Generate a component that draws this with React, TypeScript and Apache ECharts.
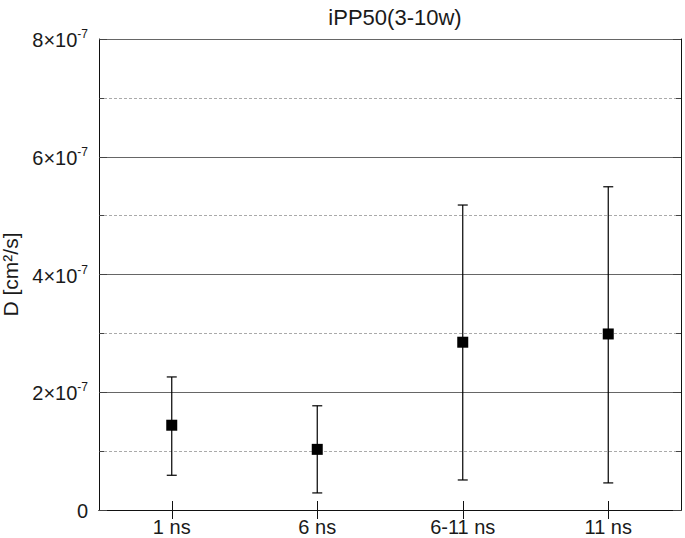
import React, { useEffect, useRef } from "react";
import * as echarts from "echarts";

const categories = ["1 ns", "6 ns", "6-11 ns", "11 ns"];
const means = [1.44e-7, 1.03e-7, 2.85e-7, 2.99e-7];
const lows = [0.59e-7, 0.29e-7, 0.51e-7, 0.46e-7];
const highs = [2.26e-7, 1.77e-7, 5.18e-7, 5.49e-7];
const yTicks = [0, 2e-7, 4e-7, 6e-7, 8e-7];

const FONT = "Arial, 'Liberation Sans', sans-serif";

export default function App() {
  const ref = useRef<HTMLDivElement>(null);
  useEffect(() => {
    if (!ref.current) return;
    const chart = echarts.init(ref.current, undefined, { renderer: "svg" });
    const fmt = (v: number) => {
      if (Math.abs(v) < 1e-12) return "{b|0}";
      const idx = yTicks.findIndex((t) => Math.abs(t - v) < 1e-12);
      const m = Math.round(v / 1e-7);
      return idx >= 0 ? `{b|${m}×10}{s|-7}` : "";
    };
    const axisLine = { show: true, lineStyle: { color: "#111", width: 1 } };
    chart.setOption({
      animation: false,
      backgroundColor: "#fff",
      title: {
        text: "iPP50(3-10w)",
        left: 390,
        textAlign: "center",
        top: 1,
        textStyle: { fontFamily: FONT, fontSize: 22, fontWeight: "normal", color: "#1a1a1a" },
      },
      grid: { left: 99, right: 4, top: 39, bottom: 28, containLabel: false, outerBoundsMode: "none" },
      xAxis: [
        {
          type: "category",
          data: categories,
          position: "bottom",
          axisLine,
          axisTick: { show: true, inside: true, alignWithLabel: true, length: 9, lineStyle: { color: "#111" } },
          axisLabel: { fontFamily: FONT, fontSize: 20, color: "#1a1a1a", margin: 7 },
          splitLine: { show: false },
        },
        {
          type: "category",
          data: categories,
          position: "top",
          axisLine,
          axisTick: { show: true, inside: true, alignWithLabel: true, length: 9, lineStyle: { color: "#111" } },
          axisLabel: { show: false },
          splitLine: { show: false },
        },
      ],
      yAxis: [
        {
          type: "value",
          min: 0,
          max: 8e-7,
          interval: 2e-7,
          position: "left",
          name: "D [cm²/s]",
          nameLocation: "middle",
          nameGap: 75,
          nameRotate: 90,
          nameTextStyle: { fontFamily: FONT, fontSize: 21, lineHeight: 21, color: "#1a1a1a" },
          axisLine,
          axisTick: { show: true, inside: true, length: 8, lineStyle: { color: "#444" } },
          minorTick: { show: true, splitNumber: 2, length: 5, lineStyle: { color: "#444" } },
          minorSplitLine: { show: true, lineStyle: { color: "#aaa", type: [3, 2], width: 1 } },
          splitLine: { show: true, lineStyle: { color: "#666", width: 1 } },
          axisLabel: {
            formatter: fmt,
            margin: 11,
            rich: {
              b: { fontFamily: FONT, fontSize: 20, color: "#1a1a1a", lineHeight: 22, verticalAlign: "bottom" },
              s: { fontFamily: FONT, fontSize: 12, color: "#1a1a1a", lineHeight: 22, verticalAlign: "top" },
            },
          },
        },
        {
          type: "value",
          min: 0,
          max: 8e-7,
          interval: 2e-7,
          position: "right",
          axisLine,
          axisTick: { show: true, inside: true, length: 8, lineStyle: { color: "#444" } },
          minorTick: { show: true, splitNumber: 2, length: 5, lineStyle: { color: "#444" } },
          splitLine: { show: false },
          axisLabel: { show: false },
        },
      ],
      series: [
        {
          type: "custom",
          xAxisIndex: 0,
          yAxisIndex: 0,
          data: categories.map((_, i) => [i, lows[i], highs[i]]),
          renderItem: (params: any, api: any) => {
            const i = api.value(0);
            const lo = api.coord([i, api.value(1)]);
            const hi = api.coord([i, api.value(2)]);
            const hw = 5;
            const style = { stroke: "#000", lineWidth: 1.2 };
            return {
              type: "group",
              children: [
                { type: "line", shape: { x1: lo[0], y1: lo[1], x2: hi[0], y2: hi[1] }, style },
                { type: "line", shape: { x1: lo[0] - hw, y1: lo[1], x2: lo[0] + hw, y2: lo[1] }, style },
                { type: "line", shape: { x1: hi[0] - hw, y1: hi[1], x2: hi[0] + hw, y2: hi[1] }, style },
              ],
            };
          },
          z: 5,
        },
        {
          type: "scatter",
          data: means,
          symbol: "rect",
          symbolSize: 11,
          itemStyle: { color: "#000", opacity: 1 },
          z: 10,
        },
      ],
    });
    return () => chart.dispose();
  }, []);
  return <div ref={ref} style={{ width: 685, height: 538, position: "absolute", left: 0, top: 0 }} />;
}
